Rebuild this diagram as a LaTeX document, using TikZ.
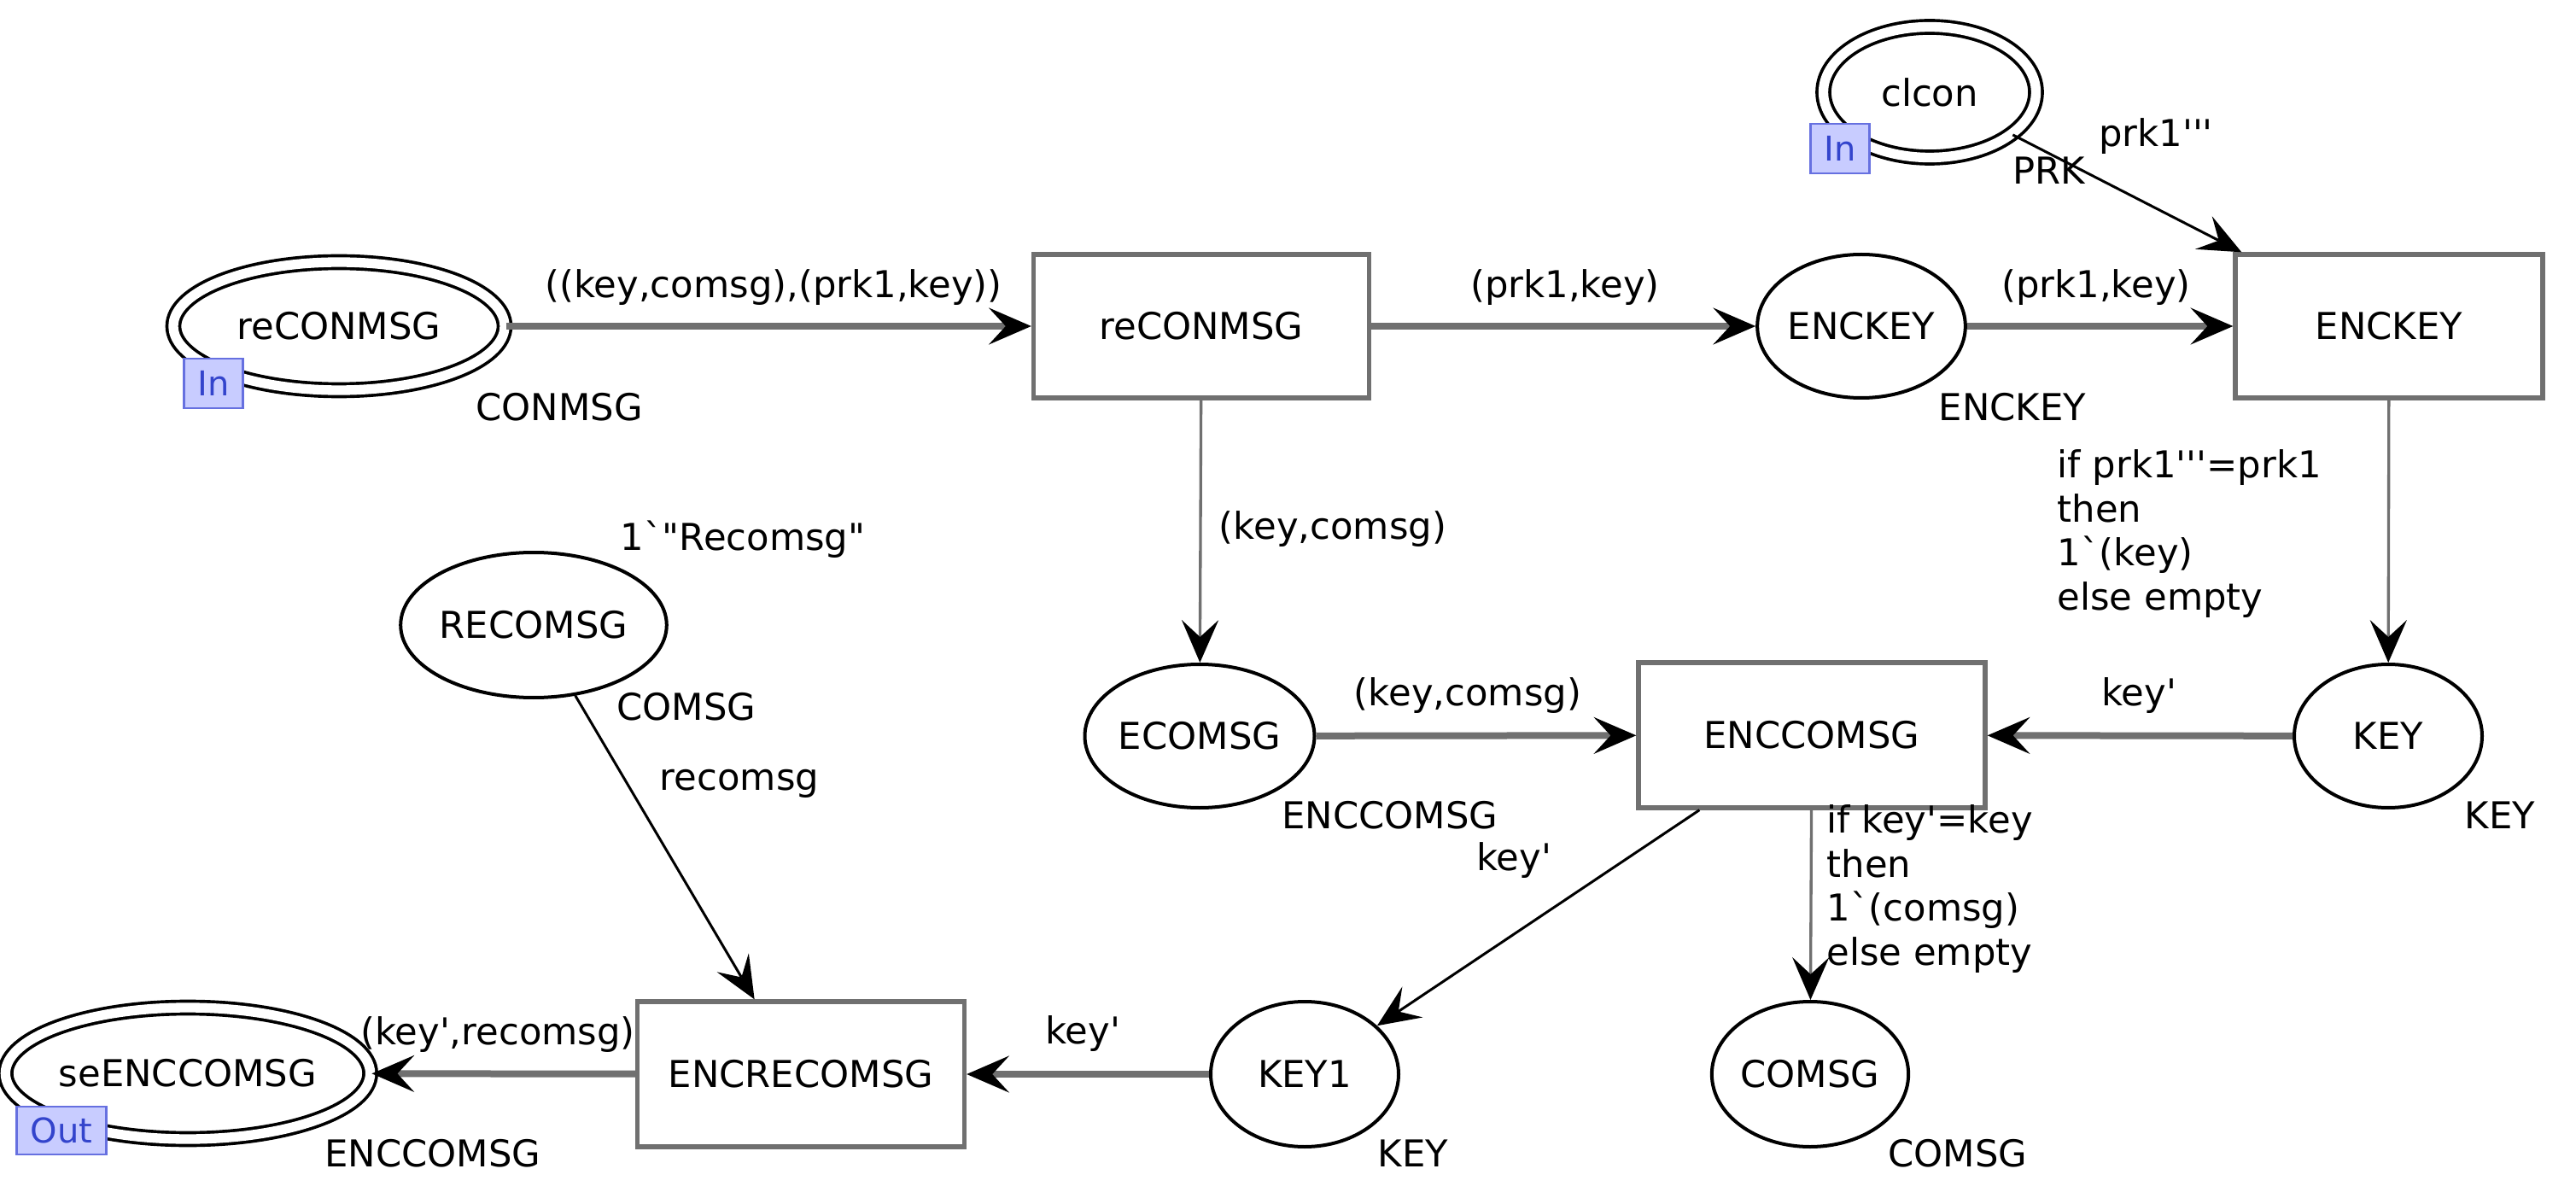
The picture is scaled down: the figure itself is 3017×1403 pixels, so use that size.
\documentclass[tikz,border=0pt]{standalone}
\usepackage{fontspec}
\setmainfont{DejaVu Sans}[Ligatures=TeXOff]
\usetikzlibrary{arrows.meta,calc,shapes.geometric}
\definecolor{arcgray}{HTML}{707070}
\definecolor{tagfill}{HTML}{C8CCFF}
\definecolor{tagdraw}{HTML}{6670E0}
\definecolor{tagtext}{HTML}{3344CC}
\begin{document}
\begin{tikzpicture}[x=0.3pt,y=-0.3pt,
  every node/.style={font=\fontsize{13}{15.5}\selectfont, inner sep=0pt},
  place/.style={ellipse, draw=black, line width=1.2pt, fill=white},
  port/.style={ellipse, draw=black, line width=1.1pt, double=white, double distance=3.4pt, fill=white},
  trans/.style={rectangle, draw=arcgray, line width=1.6pt, fill=white},
  tag/.style={rectangle, draw=tagdraw, fill=tagfill, line width=0.7pt, text=tagtext, font=\fontsize{12}{14}\selectfont},
  tip/.style={-{Stealth[length=15pt,width=13pt,inset=6pt,color=black,line width=0pt]}},
  thick arc/.style={tip, draw=arcgray, line width=2.4pt},
  thin gray/.style={tip, draw=arcgray, line width=1pt},
  thin black/.style={tip, draw=black, line width=0.9pt},
  lbl/.style={align=left}
]
\fill[white] (0,0) rectangle (3017,1403);
\useasboundingbox (0,0) rectangle (3017,1403);

% places
\node[port, minimum width=116.4pt, minimum height=45pt] (reP) at (397,382) {reCONMSG};
\node[port, minimum width=74.7pt, minimum height=45.9pt] (clcon) at (2260,108) {clcon};
\node[place, minimum width=65.4pt, minimum height=50.4pt] (encP) at (2180,382) {ENCKEY};
\node[place, minimum width=67.8pt, minimum height=51pt] (recomsg) at (625,732) {RECOMSG};
\node[place, minimum width=64.8pt, minimum height=50.4pt] (ecomsg) at (1405,862) {ECOMSG};
\node[place, minimum width=66pt, minimum height=50.4pt] (key) at (2797,862) {KEY};
\node[place, minimum width=66pt, minimum height=51pt] (key1) at (1528,1258) {KEY1};
\node[place, minimum width=66pt, minimum height=51pt] (comsg) at (2120,1258) {COMSG};
\node[port, minimum width=116.4pt, minimum height=46.2pt] (seP) at (220,1257) {seENCCOMSG};

% transitions
\node[trans, minimum width=117.9pt, minimum height=50.4pt] (A) at (1407,382) {reCONMSG};
\node[trans, minimum width=108pt, minimum height=50.4pt] (B) at (2798,382) {ENCKEY};
\node[trans, minimum width=121.8pt, minimum height=51pt] (C) at (2122,861) {ENCCOMSG};
\node[trans, minimum width=114.9pt, minimum height=51pt] (D) at (938,1258) {ENCRECOMSG};

% port tags
\node[tag, minimum width=20.7pt, minimum height=17.4pt] (tin1) at (250,449) {In};
\node[tag, minimum width=20.7pt, minimum height=17.4pt] (tin2) at (2155,174) {In};
\node[tag, minimum width=31.5pt, minimum height=16.8pt] (tout) at (72,1324) {Out};

% colour set labels
\node (cs1) at (655,477) {CONMSG};
\node (cs2) at (2400,200) {PRK};
\node (cs3) at (2357,477) {ENCKEY};
\node (cs4) at (804,828) {COMSG};
\node (cs5) at (1628,955) {ENCCOMSG};
\node (cs6) at (2928,955) {KEY};
\node (cs7) at (1655,1351) {KEY};
\node (cs8) at (2293,1351) {COMSG};
\node (cs9) at (507,1351) {ENCCOMSG};
\node (im1) at (870,632) {1`"Recomsg"};

% arcs
\draw[thick arc] (reP) -- (A);
\draw[thick arc] (A) -- (encP);
\draw[thick arc] (encP) -- (B);
\draw[thin black] (clcon) -- ($(B.north west)+(10,0)$);
\draw[thin gray] (B) -- (key);
\draw[thin gray] (A) -- (ecomsg);
\draw[thick arc] (ecomsg) -- (C);
\draw[thick arc] (key) -- (C);
\coordinate (cK) at ($(C.south west)!0.18!(C.south east)$);
\draw[thin black] (cK) -- (key1);
\draw[thin gray] (C) -- (comsg);
\draw[thick arc] (key1) -- (D);
\draw[thick arc] (D) -- (seP);
\coordinate (dT) at ($(D.north west)!0.36!(D.north east)$);
\draw[thin black] (recomsg) -- (dT);

% arc inscriptions
\node (a1) at (906,337) {((key,comsg),(prk1,key))};
\node (a2) at (1833,337) {(prk1,key)};
\node (a3) at (2455,337) {(prk1,key)};
\node (a4) at (2525,160) {prk1'''};
\node[lbl, anchor=north west] (a5) at (2409,526) {if prk1'''=prk1\\then\\1`(key)\\else empty};
\node (a6) at (1561,620) {(key,comsg)};
\node (a7) at (1719,815) {(key,comsg)};
\node (a8) at (2505,815) {key'};
\node (a9) at (1773,1008) {key'};
\node[lbl, anchor=north west] (a10) at (2139,942) {if key'=key\\then\\1`(comsg)\\else empty};
\node (a11) at (1268,1211) {key'};
\node (a12) at (583,1212) {(key',recomsg)};
\node (a13) at (866,918) {recomsg};
\end{tikzpicture}
\end{document}
